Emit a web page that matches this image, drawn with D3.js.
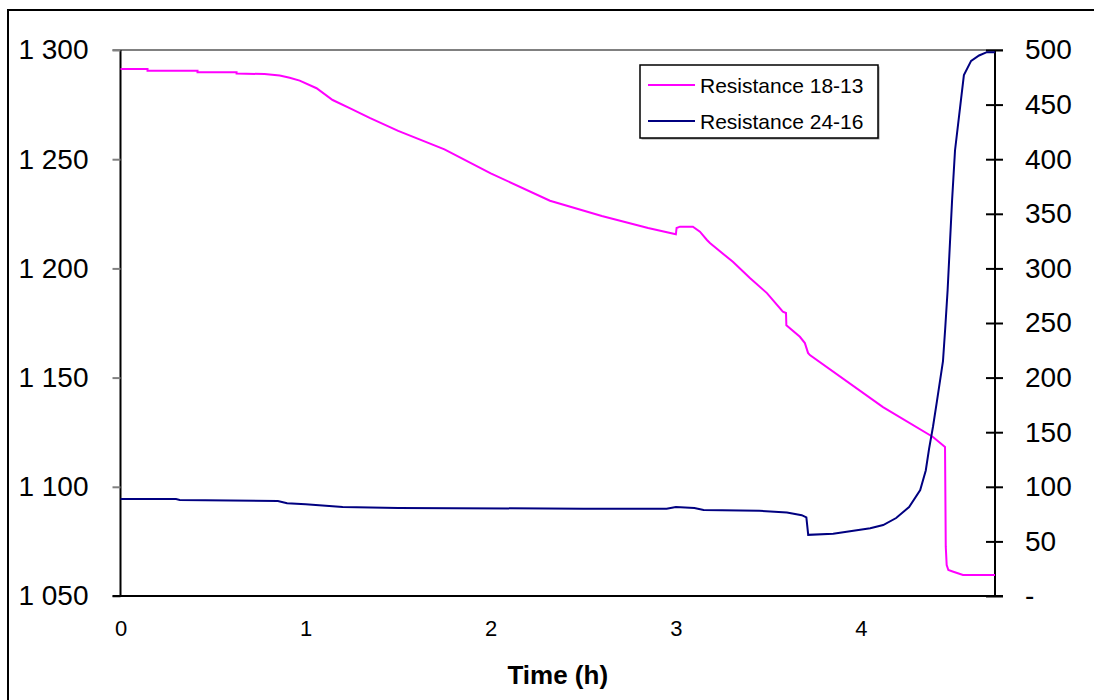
<!DOCTYPE html>
<html>
<head>
<meta charset="utf-8">
<script src="https://cdn.jsdelivr.net/npm/d3@7"></script>
<style>
  html, body { margin: 0; padding: 0; background: #fff; }
  svg { display: block; font-family: "Liberation Sans", Arial, sans-serif; }
</style>
</head>
<body>
<div id="chart"></div>
<script>
// time (h), value
const pinkSeries = [
  [0, 1291.3], [0.146, 1291.3], [0.146, 1290.5], [0.416, 1290.5], [0.416, 1289.8],
  [0.627, 1289.8], [0.627, 1289.2], [0.778, 1289.0], [0.86, 1288.3], [0.914, 1287.3],
  [0.968, 1286.0], [1.059, 1282.5], [1.146, 1277.1], [1.238, 1273.4], [1.346, 1268.9],
  [1.5, 1263.0], [1.75, 1254.5], [2.0, 1243.5], [2.32, 1231.0], [2.6, 1224.0],
  [2.85, 1218.5], [3.0, 1215.6], [3.004, 1218.5], [3.022, 1219.1], [3.092, 1219.1],
  [3.13, 1216.8], [3.168, 1213.0], [3.184, 1211.6], [3.308, 1203.0], [3.4, 1195.6],
  [3.492, 1188.7], [3.578, 1180.2], [3.595, 1179.6], [3.597, 1174.0], [3.67, 1168.7],
  [3.697, 1165.8], [3.714, 1161.3], [3.724, 1160.3], [4.119, 1136.5], [4.389, 1122.8],
  [4.454, 1118.2], [4.458, 1072.6], [4.463, 1064.2], [4.472, 1061.9], [4.499, 1061.1],
  [4.551, 1059.6], [4.724, 1059.6]
]

const navySeries = [
  [0, 88.8], [0.3, 88.8], [0.32, 88], [0.85, 87], [0.9, 85], [1.0, 84], [1.2, 81.5],
  [1.5, 80.6], [2.5, 80], [2.95, 80], [3.0, 81.5], [3.1, 80.5], [3.15, 78.8], [3.45, 78],
  [3.6, 76.5], [3.68, 74], [3.705, 72], [3.715, 56], [3.85, 57], [3.95, 59.5], [4.05, 62],
  [4.12, 65], [4.19, 71.4], [4.26, 81.5], [4.32, 97], [4.35, 115], [4.368, 135],
  [4.389, 155], [4.41, 178], [4.443, 215], [4.455, 245], [4.468, 280], [4.492, 362],
  [4.508, 408], [4.54, 454], [4.556, 477], [4.595, 490], [4.638, 495], [4.68, 498],
  [4.724, 498]
]

const xTicks = [0, 1, 2, 3, 4]
const leftTicks = [1050, 1100, 1150, 1200, 1250, 1300]
const rightTicks = [0, 50, 100, 150, 200, 250, 300, 350, 400, 450, 500]
const seriesNames = ['Resistance 18-13', 'Resistance 24-16']
const seriesColors = ['#FF00FF', '#000080']

const width = 1094
const height = 700
const plot = { left: 120.5, right: 995, top: 50, bottom: 596 }

const svg = d3.select('#chart').append('svg')
  .attr('width', width)
  .attr('height', height)

// outer frame (runs off the right and bottom edges)
svg.append('rect')
  .attr('x', 8).attr('y', 10)
  .attr('width', 1100).attr('height', 700)
  .attr('fill', 'none').attr('stroke', '#000').attr('stroke-width', 2)

const x = d3.scaleLinear([0, 4.724], [plot.left, plot.right])
const yLeft = d3.scaleLinear([1050, 1300], [plot.bottom, plot.top])
const yRight = d3.scaleLinear([0, 500], [plot.bottom, plot.top])

const spaceFmt = d3.formatLocale({ decimal: ',', thousands: ' ', grouping: [3], currency: ['', ''] }).format(',d')

// top border of plot area
svg.append('line')
  .attr('x1', plot.left - 8).attr('x2', plot.right + 8)
  .attr('y1', plot.top).attr('y2', plot.top)
  .attr('stroke', '#808080').attr('stroke-width', 2)

// left axis
const gLeft = svg.append('g').attr('transform', `translate(${plot.left},0)`)
  .call(d3.axisLeft(yLeft).tickValues(leftTicks).tickSize(8).tickPadding(24).tickFormat(spaceFmt))
gLeft.select('.domain').attr('stroke', '#000').attr('stroke-width', 2).attr('d', `M0,${plot.top}V${plot.bottom}`)
gLeft.selectAll('.tick line').attr('stroke', '#808080').attr('stroke-width', 2)
gLeft.selectAll('.tick text').attr('font-size', 28).attr('font-family', '"Liberation Sans", Arial, sans-serif').attr('fill', '#000')

// right axis
const gRight = svg.append('g').attr('transform', `translate(${plot.right},0)`)
  .call(d3.axisRight(yRight).tickValues(rightTicks).tickSize(8).tickPadding(22).tickFormat(d => d === 0 ? '-' : d))
gRight.select('.domain').attr('stroke', '#000').attr('stroke-width', 2).attr('d', `M0,${plot.top}V${plot.bottom}`)
gRight.selectAll('.tick line').attr('x1', -9).attr('stroke', '#000').attr('stroke-width', 2)
gRight.selectAll('.tick text').attr('font-size', 28).attr('font-family', '"Liberation Sans", Arial, sans-serif').attr('fill', '#000')

// bottom axis
const gBottom = svg.append('g').attr('transform', `translate(0,${plot.bottom})`)
  .call(d3.axisBottom(x).tickValues(xTicks).tickSize(0).tickPadding(24).tickFormat(d3.format('d')))
gBottom.select('.domain').attr('stroke', '#000').attr('stroke-width', 2).attr('d', `M${plot.left - 8},0H${plot.right + 8}`)
gBottom.selectAll('.tick text').attr('font-size', 22).attr('font-family', '"Liberation Sans", Arial, sans-serif').attr('fill', '#000')

svg.append('text')
  .attr('x', (plot.left + plot.right) / 2).attr('y', 684)
  .attr('text-anchor', 'middle')
  .attr('font-size', 26).attr('font-weight', 'bold')
  .text('Time (h)')

// series
const lineLeft = d3.line().x(d => x(d[0])).y(d => yLeft(d[1]))
const lineRight = d3.line().x(d => x(d[0])).y(d => yRight(d[1]))

svg.append('path').datum(pinkSeries)
  .attr('d', lineLeft).attr('fill', 'none')
  .attr('stroke', seriesColors[0]).attr('stroke-width', 2)

svg.append('path').datum(navySeries)
  .attr('d', lineRight).attr('fill', 'none')
  .attr('stroke', seriesColors[1]).attr('stroke-width', 2)

// legend
const legend = svg.append('g').attr('transform', 'translate(640,65)')
legend.append('rect').attr('x', 1.5).attr('y', 1.5).attr('width', 238).attr('height', 73).attr('fill', '#999')
legend.append('rect').attr('width', 238).attr('height', 73).attr('fill', '#fff').attr('stroke', '#000').attr('stroke-width', 1.5)
seriesNames.forEach((name, i) => {
  const cy = 20 + i * 36
  legend.append('line').attr('x1', 8).attr('x2', 55).attr('y1', cy).attr('y2', cy)
    .attr('stroke', seriesColors[i]).attr('stroke-width', 2)
  legend.append('text').attr('x', 60).attr('y', cy + 7.5)
    .attr('font-size', 21).text(name)
})
</script>
</body>
</html>
